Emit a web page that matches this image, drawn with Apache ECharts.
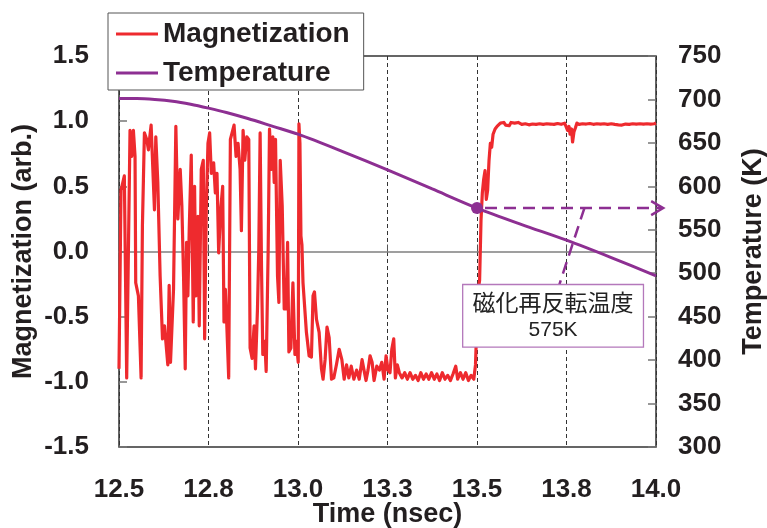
<!DOCTYPE html>
<html>
<head>
<meta charset="utf-8">
<script src="https://cdn.jsdelivr.net/npm/echarts@6/dist/echarts.min.js"></script>
<style>
  html, body { margin: 0; padding: 0; background: #ffffff; }
  #chart { width: 767px; height: 528px; }
</style>
</head>
<body>
<div id="chart"></div>
<script>
// ---- time axis ----
const timeMin = 12.5;
const timeMax = 14.0;
const timeStep = 0.25;
const timeTickLabels = ['12.5', '12.8', '13.0', '13.3', '13.5', '13.8', '14.0'];

// ---- magnetization (arb.), [time ns, value] ----
const magOscillating = [
  [12.500,-0.90],[12.5056,0.47],[12.5093,0.47],[12.5149,0.58],[12.5215,-0.97],[12.5243,-0.97],
  [12.5308,0.93],[12.5355,0.73],[12.5402,0.93],[12.5448,0.73],[12.5467,-0.24],[12.5542,-0.34],
  [12.5617,-0.97],[12.5654,0.20],[12.5682,0.55],[12.5710,0.91],[12.5775,0.86],[12.5822,0.78],
  [12.5860,0.88],[12.5897,0.97],[12.5934,0.96],[12.5990,0.32],[12.6028,0.88],[12.6084,0.53],
  [12.6149,-0.19],[12.6215,-0.67],[12.6271,-0.57],[12.6308,-0.69],[12.6364,-0.87],[12.6401,-0.26],
  [12.6439,-0.85],[12.6523,-0.29],[12.6588,0.96],[12.6644,0.25],[12.6710,0.63],[12.6756,0.35],
  [12.6803,-0.19],[12.6850,-0.90],[12.6887,0.07],[12.6924,-0.34],[12.6962,0.17],[12.7018,0.74],
  [12.7074,-0.54],[12.7111,0.50],[12.7149,-0.34],[12.7205,0.27],[12.7242,-0.57],[12.7298,0.63],
  [12.7354,0.70],[12.7392,-0.67],[12.7438,0.32],[12.7485,0.83],[12.7532,0.91],[12.7578,0.60],
  [12.7644,0.68],[12.7691,0.45],[12.7737,0.60],[12.7784,-0.01],[12.7840,0.32],[12.7896,0.50],
  [12.7933,-0.54],[12.7971,-0.29],[12.8008,-0.54],[12.8064,-0.97],[12.8111,0.86],[12.8158,0.86],
  [12.8214,0.97],[12.8270,0.73],[12.8326,0.83],[12.8382,0.63],[12.8419,0.16],[12.8466,0.93],
  [12.8513,0.70],[12.8569,0.88],[12.8625,0.86],[12.8662,-0.74],[12.8718,-0.82],[12.8774,-0.57],
  [12.8812,-0.90],[12.8868,-0.44],[12.8905,0.02],[12.8942,0.91],[12.8980,-0.11],[12.9017,-0.79],
  [12.9073,-0.69],[12.9111,-0.92],[12.9167,0.02],[12.9204,0.94],[12.9260,0.63],[12.9297,0.88],
  [12.9335,0.53],[12.9372,0.86],[12.9428,-0.19],[12.9466,-0.39],[12.9503,0.70],[12.9559,0.35],
  [12.9615,-0.44],[12.9671,-0.44],[12.9709,0.07],[12.9746,-0.77],[12.9802,-0.74],[12.9858,-0.24],
  [12.9914,-0.79],[12.9951,-0.69],[13.0007,-0.85],[13.0026,0.98],[13.0054,0.83],[13.0082,0.12],
  [13.0110,0.05]
];
const magSettling = [
  [13.014,-0.24],[13.0235,-0.62],[13.031,-0.80],[13.0375,-0.81],[13.042,-0.34],[13.046,-0.31],
  [13.0516,-0.52],[13.059,-0.62],[13.0655,-0.90],[13.070,-0.98],[13.0757,-0.83],[13.081,-0.58],
  [13.087,-0.66],[13.0936,-0.98],[13.100,-0.97],[13.1076,-0.865],[13.115,-0.75],[13.1225,-0.83],
  [13.129,-0.98],[13.1356,-0.87],[13.142,-0.97],[13.1486,-0.88],[13.156,-0.98],[13.1637,-0.91],
  [13.171,-0.98],[13.179,-0.83],[13.1844,-0.91],[13.19,-0.99],[13.1956,-0.91],[13.2013,-0.80],
  [13.207,-0.85],[13.2125,-0.99],[13.22,-0.88],[13.2275,-0.91],[13.234,-0.85],[13.2405,-0.98],
  [13.246,-0.80],[13.2514,-0.91],[13.257,-0.93],[13.262,-0.75],[13.2674,-0.67],[13.272,-0.97],
  [13.2775,-0.87],[13.283,-0.93],[13.2906,-0.97],[13.298,-0.93],[13.3055,-0.98],[13.313,-0.93],
  [13.3205,-0.98],[13.328,-0.95],[13.3356,-0.99],[13.343,-0.93],[13.3505,-0.98],[13.358,-0.94],
  [13.3655,-0.98],[13.373,-0.93],[13.3806,-0.98],[13.388,-0.94],[13.3955,-0.99],[13.403,-0.93],
  [13.4106,-0.98],[13.418,-0.95],[13.4256,-0.99],[13.433,-0.94],[13.4406,-0.88],[13.446,-0.98],
  [13.4537,-0.93],[13.461,-0.98],[13.4686,-0.93],[13.476,-0.99],[13.4837,-0.95],[13.491,-0.98],
  [13.4958,-0.87]
];
const magSwitching = [
  [13.499,-0.60],[13.503,-0.30],[13.5073,-0.22],[13.5112,0.24],[13.5149,0.45],[13.5185,0.55],
  [13.5224,0.62],[13.526,0.40],[13.5297,0.47],[13.5336,0.70],[13.5373,0.83],[13.541,0.80],
  [13.5449,0.90],[13.5505,0.94],[13.556,0.96],[13.5653,0.985]
];
const magSaturated = [
  [13.570,0.975],[13.575,0.990],[13.580,0.970],[13.585,0.985],[13.590,0.965],[13.595,0.990],
  [13.600,0.975],[13.605,0.985],[13.610,0.970],[13.615,0.990],[13.620,0.980],[13.625,0.975],
  [13.630,0.990],[13.635,0.980],[13.640,0.990],[13.645,0.972],[13.650,0.985],[13.655,0.978],
  [13.660,0.992],[13.665,0.975],[13.670,0.985],[13.675,0.980],[13.680,0.992],[13.685,0.976],
  [13.690,0.988],[13.695,0.980],[13.700,0.990],[13.705,0.978],[13.710,0.987],[13.715,0.975],
  [13.720,0.990],[13.725,0.982],[13.730,0.988],[13.735,0.976],[13.740,0.990],[13.745,0.984],
  [13.750,0.975],[13.753,0.930],[13.757,0.960],[13.760,0.900],[13.764,0.940],[13.767,0.840],
  [13.771,0.920],[13.775,0.950],[13.779,0.985],[13.785,0.975],[13.790,0.990],[13.795,0.980],
  [13.800,0.992],[13.805,0.978],[13.810,0.988],[13.815,0.982],[13.820,0.992],[13.825,0.976],
  [13.830,0.988],[13.835,0.980],[13.840,0.990],[13.845,0.978],[13.850,0.987],[13.855,0.980],
  [13.860,0.990],[13.865,0.976],[13.870,0.985],[13.875,0.980],[13.880,0.990],[13.885,0.975],
  [13.890,0.986],[13.895,0.972],[13.900,0.984],[13.905,0.970],[13.910,0.985],[13.915,0.978],
  [13.920,0.990],[13.925,0.976],[13.930,0.988],[13.935,0.980],[13.940,0.990],[13.945,0.978],
  [13.950,0.987],[13.955,0.980],[13.960,0.990],[13.965,0.977],[13.970,0.986],[13.975,0.980],
  [13.980,0.990],[13.985,0.978],[13.990,0.987],[13.995,0.980],[14.000,0.985]
];

// ---- temperature (K) ----
const tempTime  = [12.50, 12.55, 12.60, 12.65, 12.70, 12.75, 12.80, 12.86, 12.93, 13.00,
                   13.125, 13.25, 13.375, 13.50, 13.625, 13.75, 13.875, 14.00];
const tempValue = [701, 701, 700, 698, 694.5, 690, 685, 678, 669, 660,
                   640, 619, 597, 575, 556, 538, 518, 497];

// ---- reversal temperature callout ----
const reversalPoint = [13.5, 575];
const arrowTip = [14.02, 575];
const calloutFrom = [13.8, 575];
const calloutTo = [13.73, 487];
const noteBoxCorners = [[13.46, 487], [13.965, 415]];
const noteLines = ['磁化再反転温度', '575K'];

const magData = magOscillating.concat(magSettling, magSwitching, magSaturated);
const tempData = tempTime.map((t, i) => [t, tempValue[i]]);

const FONT = "'Liberation Sans', Arial, Helvetica, sans-serif";
const INK = '#231f20';
const RED = '#ee2a2e';
const PURPLE = '#8d2f92';

const chart = echarts.init(document.getElementById('chart'), null, { renderer: 'canvas' });

const option = {
  backgroundColor: '#ffffff',
  animation: false,
  grid: {
    left: 119, right: 111, top: 56, bottom: 81,
    outerBoundsMode: 'none', containLabel: false,
    show: true, borderColor: '#333333', borderWidth: 1.5, backgroundColor: 'transparent'
  },
  legend: {
    data: ['Magnetization', 'Temperature'],
    orient: 'vertical',
    left: 108, top: 13,
    padding: [7, 14, 3, 8],
    icon: 'rect',
    itemWidth: 42, itemHeight: 3, itemGap: 11,
    backgroundColor: '#ffffff',
    borderColor: '#555555', borderWidth: 1,
    borderRadius: 0,
    textStyle: { fontFamily: FONT, fontSize: 28, fontWeight: 'bold', color: INK, lineHeight: 28 }
  },
  xAxis: [
    {
      type: 'value', min: timeMin, max: timeMax, interval: timeStep,
      position: 'bottom',
      name: 'Time (nsec)', nameLocation: 'middle', nameGap: 54, nameMoveOverlap: false,
      nameTextStyle: { fontFamily: FONT, fontSize: 27, fontWeight: 'bold', color: INK },
      axisLine: { show: false, onZero: false },
      axisTick: { show: false },
      axisLabel: {
        margin: 30, fontFamily: FONT, fontSize: 26, fontWeight: 'bold', color: INK,
        formatter: v => timeTickLabels[Math.round((v - timeMin) / timeStep)]
      },
      splitLine: { show: true, lineStyle: { color: '#333333', width: 1, type: [4, 3] } }
    },
    {
      // zero line of the magnetization scale, with its small tick marks
      type: 'value', min: timeMin, max: timeMax, interval: timeStep,
      position: 'bottom',
      axisLine: { show: true, onZero: true, onZeroAxisIndex: 0, lineStyle: { color: '#808080', width: 1.5 } },
      axisTick: { show: true, inside: true, length: 7, lineStyle: { color: '#555555', width: 1 } },
      axisLabel: { show: false },
      splitLine: { show: false }
    }
  ],
  yAxis: [
    {
      type: 'value', min: -1.5, max: 1.5, interval: 0.5,
      position: 'left',
      name: 'Magnetization (arb.)', nameLocation: 'middle', nameGap: 82, nameMoveOverlap: false,
      nameTextStyle: { fontFamily: FONT, fontSize: 27, fontWeight: 'bold', color: INK },
      axisLine: { show: false },
      axisTick: { show: true, inside: true, length: 8, lineStyle: { color: '#777777', width: 1.5 } },
      axisLabel: {
        margin: 30, fontFamily: FONT, fontSize: 26, fontWeight: 'bold', color: INK,
        formatter: v => v.toFixed(1)
      },
      splitLine: { show: false }
    },
    {
      type: 'value', min: 300, max: 750, interval: 50,
      position: 'right',
      name: 'Temperature (K)', nameLocation: 'middle', nameGap: 84, nameMoveOverlap: false,
      nameTextStyle: { fontFamily: FONT, fontSize: 27, fontWeight: 'bold', color: INK },
      axisLine: { show: false },
      axisTick: { show: true, inside: true, length: 8, lineStyle: { color: '#777777', width: 1.5 } },
      axisLabel: { margin: 22, fontFamily: FONT, fontSize: 26, fontWeight: 'bold', color: INK },
      splitLine: { show: false }
    }
  ],
  series: [
    {
      name: 'Magnetization', type: 'line',
      xAxisIndex: 0, yAxisIndex: 0,
      data: magData,
      symbol: 'none', showSymbol: false,
      lineStyle: { color: RED, width: 3.2, join: 'round' },
      itemStyle: { color: RED },
      z: 3
    },
    {
      name: 'Temperature', type: 'line',
      xAxisIndex: 0, yAxisIndex: 1,
      data: tempData,
      smooth: 0.3,
      symbol: 'none', showSymbol: false,
      lineStyle: { color: PURPLE, width: 3 },
      itemStyle: { color: PURPLE },
      z: 4,
      markPoint: {
        silent: true,
        symbol: 'circle', symbolSize: 12,
        itemStyle: { color: PURPLE },
        label: { show: false },
        data: [{ coord: reversalPoint }]
      }
    }
  ]
};

chart.setOption(option);

// callout drawn in data space of the temperature series
function px(p) { return chart.convertToPixel({ seriesIndex: 1 }, p); }

const dot = px(reversalPoint);
const tip = px(arrowTip);
const cFrom = px(calloutFrom);
const cTo = px(calloutTo);
const b0 = px(noteBoxCorners[0]);
const b1 = px(noteBoxCorners[1]);
const boxX = Math.min(b0[0], b1[0]);
const boxY = Math.min(b0[1], b1[1]);
const boxW = Math.abs(b1[0] - b0[0]);
const boxH = Math.abs(b1[1] - b0[1]);
const dashStyle = { stroke: PURPLE, lineWidth: 2.5, lineDash: [12, 7], fill: null };

chart.setOption({
  graphic: [
    {
      type: 'line', z: 50, silent: true,
      shape: { x1: dot[0] + 8, y1: dot[1], x2: tip[0] - 2, y2: tip[1] },
      style: dashStyle
    },
    {
      type: 'polyline', z: 50, silent: true,
      shape: { points: [[tip[0] - 12, tip[1] - 7], [tip[0], tip[1]], [tip[0] - 12, tip[1] + 7]] },
      style: { stroke: PURPLE, lineWidth: 2.5, fill: null }
    },
    {
      type: 'line', z: 50, silent: true,
      shape: { x1: cFrom[0], y1: cFrom[1], x2: cTo[0], y2: cTo[1] },
      style: dashStyle
    },
    {
      type: 'rect', z: 60, silent: true,
      shape: { x: boxX, y: boxY, width: boxW, height: boxH },
      style: { fill: '#ffffff', stroke: '#b478bb', lineWidth: 1.3 }
    },
    {
      type: 'text', z: 61, silent: true,
      x: boxX + boxW / 2, y: boxY + boxH * 0.29,
      style: {
        text: noteLines[0], align: 'center', verticalAlign: 'middle',
        font: "23px 'Noto Sans CJK JP', 'Noto Sans CJK SC', sans-serif", fill: '#222222'
      }
    },
    {
      type: 'text', z: 61, silent: true,
      x: boxX + boxW / 2, y: boxY + boxH * 0.73,
      style: {
        text: noteLines[1], align: 'center', verticalAlign: 'middle',
        font: "21px " + FONT, fill: '#222222'
      }
    }
  ]
});
</script>
</body>
</html>
